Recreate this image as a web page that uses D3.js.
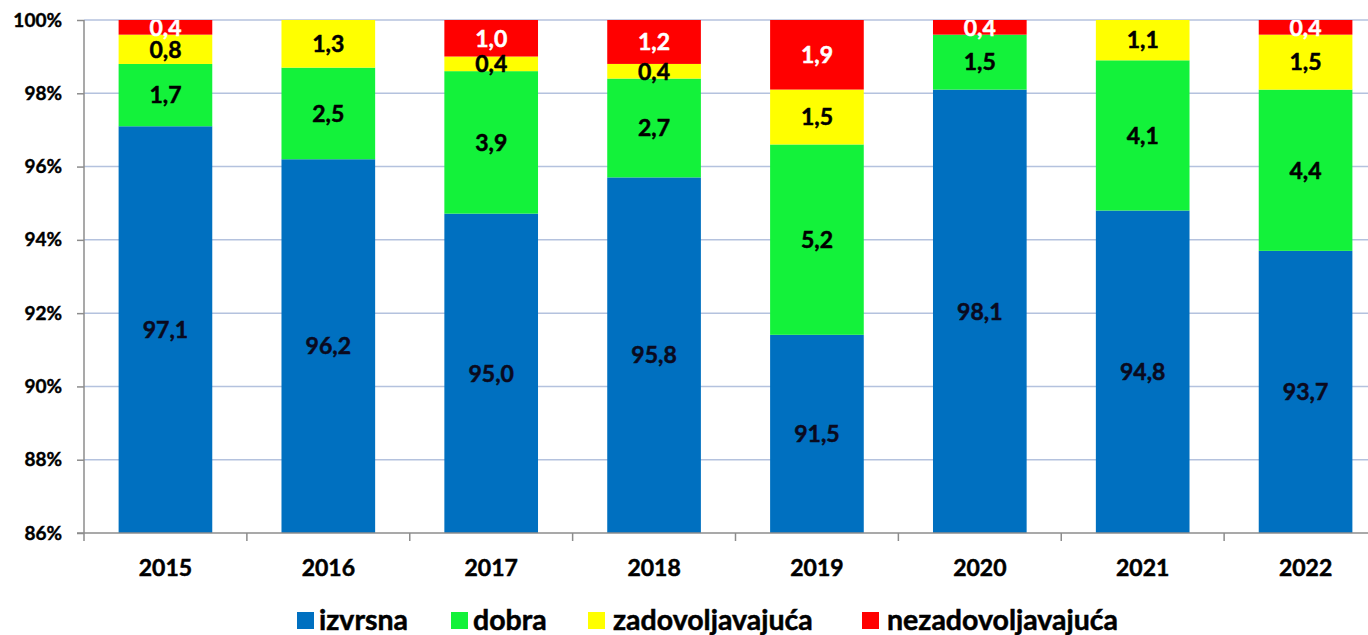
<!DOCTYPE html>
<html><head><meta charset="utf-8">
<script src="https://cdn.jsdelivr.net/npm/d3@7"></script>
<style>
html,body{margin:0;padding:0;background:#fff;}
svg{display:block;}
text{font-family:Lato,"Open Sans",sans-serif;font-weight:bold;}
</style></head>
<body>
<svg id="chart" width="1368" height="635"></svg>
<script>
const years = ["2015","2016","2017","2018","2019","2020","2021","2022"];
const izvrsna = [97.1, 96.2, 95.0, 95.8, 91.5, 98.1, 94.8, 93.7];
const dobra = [1.7, 2.5, 3.9, 2.7, 5.2, 1.5, 4.1, 4.4];
const zadovoljavajuca = [0.8, 1.3, 0.4, 0.4, 1.5, 0, 1.1, 1.5];
const nezadovoljavajuca = [0.4, 0, 1.0, 1.2, 1.9, 0.4, 0, 0.4];
const seriesNames = ["izvrsna","dobra","zadovoljavajuća","nezadovoljavajuća"];
const seriesKeys = ["a","b","c","d"];
const colors = ["#0070c0","#13f23a","#ffff00","#ff0000"];
const labelColors = ["#0a0a1e","#000","#000","#fff"];
const yTicks = [86,88,90,92,94,96,98,100];

(function(){
const rows = years.map((yr,i)=>({year:yr,a:izvrsna[i],b:dobra[i],c:zadovoljavajuca[i],d:nezadovoljavajuca[i]}));
const stack = d3.stack().keys(seriesKeys).offset(d3.stackOffsetExpand);
const stacked = stack(rows);

const svg = d3.select("#chart");
const L=84, R=1387, T=20, B=533;
const x = d3.scaleBand().domain(years).range([L,R]).paddingInner(0.425).paddingOuter(0.2125);
const y = d3.scaleLinear().domain([0.86,1.0]).range([B,T]);

svg.append("g").selectAll("line").data(yTicks.filter(t=>t>86)).join("line")
  .attr("x1",L).attr("x2",1368).attr("y1",d=>y(d/100)).attr("y2",d=>y(d/100))
  .attr("stroke","#b4c2de").attr("stroke-width",1.5);

svg.append("defs").append("clipPath").attr("id","plotclip").append("rect")
  .attr("x",L).attr("y",T).attr("width",R-L).attr("height",B-T);

const g = svg.append("g").attr("clip-path","url(#plotclip)");
stacked.forEach((s,si)=>{
  g.append("g").selectAll("rect").data(s).join("rect")
    .attr("x",d=>x(d.data.year)).attr("width",x.bandwidth())
    .attr("y",d=>y(Math.min(1,d[1]))).attr("height",d=>Math.max(0,y(Math.max(0.86,d[0]))-y(Math.min(1,d[1]))))
    .attr("fill",colors[si]);
});
const fmt = v=>v.toFixed(1).replace(".",",");
stacked.forEach((s,si)=>{
  g.append("g").selectAll("text").data(s.filter(d=>d.data[seriesKeys[si]]>0)).join("text")
    .attr("x",d=>x(d.data.year)+x.bandwidth()/2)
    .attr("y",d=>(y(Math.max(0.86,d[0]))+y(d[1]))/2)
    .attr("dy","0.36em")
    .attr("text-anchor","middle").attr("font-size",23)
    .attr("fill",labelColors[si]).attr("stroke",labelColors[si]).attr("stroke-width",0.5)
    .text(d=>fmt(d.data[seriesKeys[si]]));
});

const ya = svg.append("g").attr("transform",`translate(${L},0)`)
  .call(d3.axisLeft(y).tickValues(yTicks.map(t=>t/100)).tickFormat(d=>Math.round(d*100)+"%").tickSize(7).tickPadding(15));
ya.select(".domain").attr("stroke","#8c8c8c").attr("stroke-width",1.5).attr("d",`M0,${T}V${B}`);
ya.selectAll(".tick line").attr("stroke","#8c8c8c").attr("stroke-width",1.5);
ya.selectAll("text").attr("font-size",19).attr("fill","#000").attr("stroke","#000").attr("stroke-width",0.4)
  .style("font-family","Lato,sans-serif").style("font-weight","bold");

svg.append("line").attr("x1",L-7).attr("x2",1368).attr("y1",B).attr("y2",B)
  .attr("stroke","#8c8c8c").attr("stroke-width",1.5);
const bounds = years.map(yr=>x(yr)-x.step()*x.paddingInner()/2);
svg.append("g").selectAll("line").data(bounds).join("line")
  .attr("x1",d=>d).attr("x2",d=>d).attr("y1",B).attr("y2",B+8)
  .attr("stroke","#8c8c8c").attr("stroke-width",1.5);
svg.append("g").selectAll("text").data(years).join("text")
  .attr("x",d=>x(d)+x.bandwidth()/2).attr("y",576).attr("text-anchor","middle")
  .attr("font-size",23).attr("fill","#000").attr("stroke","#000").attr("stroke-width",0.5).text(d=>d);

const legSq = [297, 451, 588, 862];
const legTx = [319, 473, 613, 887];
const lg = svg.append("g");
seriesNames.forEach((n,i)=>{
  lg.append("rect").attr("x",legSq[i]).attr("y",612).attr("width",17).attr("height",17).attr("fill",colors[i]);
  lg.append("text").attr("x",legTx[i]).attr("y",630).attr("font-size",28.5).attr("fill","#000")
    .attr("stroke","#000").attr("stroke-width",0.5).text(n);
});
})();
</script>
</body></html>
